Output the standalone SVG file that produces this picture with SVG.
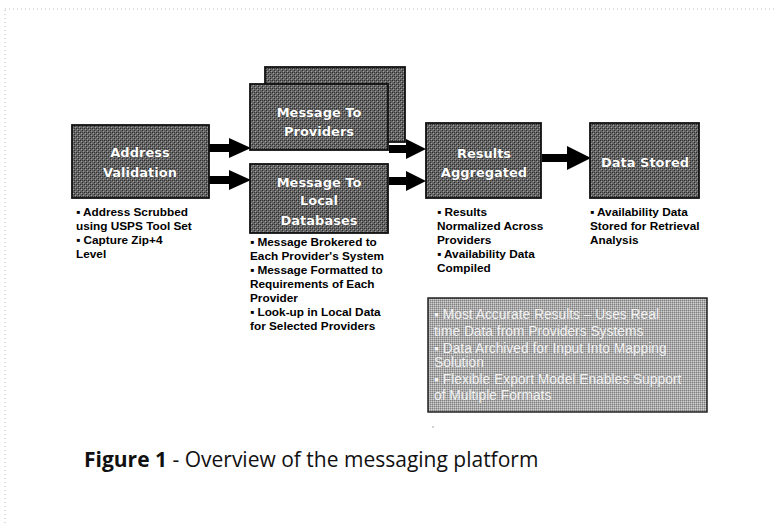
<svg xmlns="http://www.w3.org/2000/svg" width="776" height="526" viewBox="0 0 776 526">
<defs>
<pattern id="dith" width="4" height="4" patternUnits="userSpaceOnUse">
<rect width="4" height="4" fill="#656565"/>
<rect x="0" y="0" width="1" height="1" fill="#2a2a2a"/>
<rect x="2" y="2" width="1" height="1" fill="#2a2a2a"/>
<rect x="2" y="0" width="1" height="1" fill="#3a3a3a"/>
<rect x="1" y="1" width="1" height="1" fill="#a0a0a0"/>
<rect x="3" y="3" width="1" height="1" fill="#a0a0a0"/>
</pattern>
<pattern id="dithL" width="2" height="2" patternUnits="userSpaceOnUse">
<rect width="2" height="2" fill="#ababab"/>
<rect x="0" y="0" width="1" height="1" fill="#7e7e7e"/>
<rect x="1" y="1" width="1" height="1" fill="#cfcfcf"/>
</pattern>
</defs>
<style>
.box{fill:url(#dith);stroke:#111;stroke-width:1.8}
.lbl{font-family:"DejaVu Sans",Verdana,sans-serif;font-size:13px;font-weight:bold;fill:#fff;text-anchor:middle;stroke:#222;stroke-width:0.6;paint-order:stroke}
.bul{font-family:"Liberation Sans",Arial,sans-serif;font-size:11.8px;font-weight:bold;fill:#000}
.note{font-family:"Liberation Sans",Arial,sans-serif;font-size:13.8px;fill:#f4f4f4;stroke:#8a8a8a;stroke-width:0.3;paint-order:stroke}
.cap{font-family:"Open Sans","Liberation Sans",sans-serif;font-size:21px;fill:#111}
.arr{fill:#000}
</style>
<rect width="776" height="526" fill="#fff"/>
<line x1="5" y1="10" x2="5" y2="526" stroke="#bbb" stroke-width="1" stroke-dasharray="1 3"/>
<line x1="5" y1="9" x2="776" y2="9" stroke="#bbb" stroke-width="1" stroke-dasharray="1 3"/>

<g id="connectors">
<polygon class="arr" points="209,144 229,144 229,138 251,148 229,158 229,152 209,152"/>
<polygon class="arr" points="209,176 229,176 229,170 251,180 229,190 229,184 209,184"/>
<polygon class="arr" points="389,145 406,145 406,139 426,149 406,159 406,153 389,153"/>
<polygon class="arr" points="389,177 406,177 406,171 426,181 406,191 406,185 389,185"/>
<polygon class="arr" points="542,154 567,154 567,146 591,158 567,170 567,162 542,162"/>
</g>

<g id="address-validation">
<rect class="box" x="72" y="125" width="137" height="73"/>
<text class="lbl" x="140" y="157">Address</text>
<text class="lbl" x="140" y="177">Validation</text>
<text class="bul" x="76" y="216">▪ Address Scrubbed</text>
<text class="bul" x="76" y="230">using USPS Tool Set</text>
<text class="bul" x="76" y="244">▪ Capture Zip+4</text>
<text class="bul" x="76" y="258">Level</text>
</g>

<g id="message-to-providers">
<rect class="box" x="265" y="67" width="140" height="75"/>
<rect class="box" x="250" y="84" width="138" height="66"/>
<text class="lbl" x="319" y="117">Message To</text>
<text class="lbl" x="319" y="136">Providers</text>
</g>

<g id="message-to-local">
<rect class="box" x="250" y="164" width="138" height="69"/>
<text class="lbl" x="319" y="187">Message To</text>
<text class="lbl" x="319" y="205">Local</text>
<text class="lbl" x="319" y="225">Databases</text>
<text class="bul" x="250" y="246">▪ Message Brokered to</text>
<text class="bul" x="250" y="260">Each Provider's System</text>
<text class="bul" x="250" y="274">▪ Message Formatted to</text>
<text class="bul" x="250" y="288">Requirements of Each</text>
<text class="bul" x="250" y="302" font-weight="normal">Provider</text>
<text class="bul" x="250" y="316">▪ Look-up in Local Data</text>
<text class="bul" x="250" y="330">for Selected Providers</text>
</g>

<g id="results-aggregated">
<rect class="box" x="426" y="123" width="115" height="75"/>
<text class="lbl" x="484" y="158">Results</text>
<text class="lbl" x="484" y="177">Aggregated</text>
<text class="bul" x="437" y="216">▪ Results</text>
<text class="bul" x="437" y="230">Normalized Across</text>
<text class="bul" x="437" y="244">Providers</text>
<text class="bul" x="437" y="258">▪ Availability Data</text>
<text class="bul" x="437" y="272">Compiled</text>
</g>

<g id="data-stored">
<rect class="box" x="590" y="123" width="109" height="75"/>
<text class="lbl" x="645" y="167">Data Stored</text>
<text class="bul" x="590" y="216">▪ Availability Data</text>
<text class="bul" x="590" y="230">Stored for Retrieval</text>
<text class="bul" x="590" y="244">Analysis</text>
</g>

<g id="benefits">
<rect x="428" y="298" width="279" height="114" fill="url(#dithL)" stroke="#222" stroke-width="1.5"/>
<text class="note" x="434" y="319">▪ Most Accurate Results – Uses Real</text>
<text class="note" x="434" y="336">time Data from Providers Systems</text>
<text class="note" x="434" y="353">▪ Data Archived for Input Into Mapping</text>
<text class="note" x="434" y="367">Solution</text>
<text class="note" x="434" y="384">▪ Flexible Export Model Enables Support</text>
<text class="note" x="434" y="400">of Multiple Formats</text>
</g>

<circle cx="433" cy="427" r="0.8" fill="#999"/>

<g id="caption">
<text class="cap" x="84" y="467"><tspan font-weight="bold">Figure 1</tspan> - Overview of the messaging platform</text>
</g>
</svg>
